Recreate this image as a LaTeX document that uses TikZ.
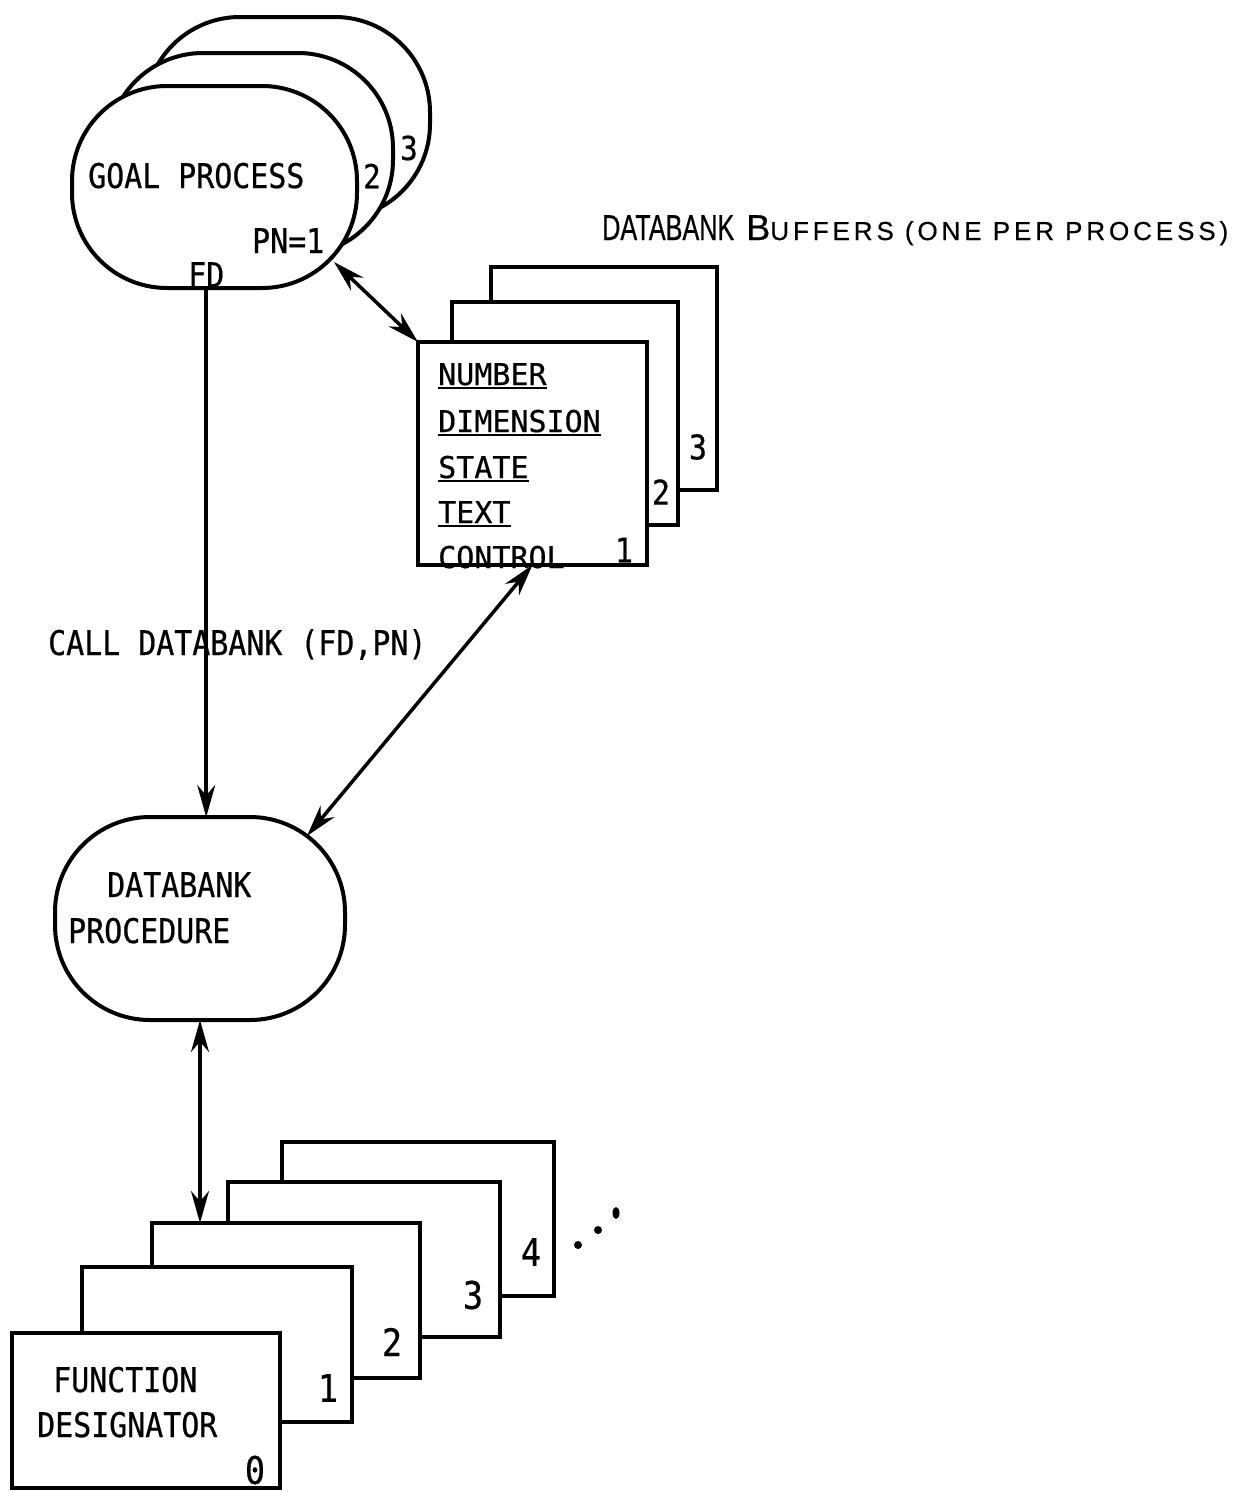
\documentclass[tikz,border=0pt]{standalone}
\usepackage{fontspec}
\usetikzlibrary{arrows.meta,calc}
\newfontfamily\tw[FakeStretch=0.88,FakeBold=0.6]{DejaVu Sans Mono}
\newfontfamily\bm[FakeBold=0.6]{DejaVu Sans Mono}
\newfontfamily\hf[FakeStretch=0.7,FakeBold=0.5]{Liberation Sans}
\newfontfamily\scf[LetterSpace=15,FakeBold=0.5]{Liberation Sans}
\newcommand\fsz[1]{\fontsize{#1pt}{#1pt}\selectfont}
\begin{document}
\begin{tikzpicture}[x=1pt,y=-1pt,
  blob/.style={draw, line width=4pt, fill=white, rounded corners=95pt,
    minimum width=285pt, minimum height=202pt, inner sep=0pt, outer sep=0pt},
  bbox/.style={draw, line width=3.5pt, fill=white, inner sep=0pt, outer sep=0pt},
  lbl/.style={inner sep=0pt, anchor=base west, font=\tw\fsz{34}},
  fld/.style={inner sep=0pt, anchor=base west, font=\bm\fsz{30}},
  num/.style={inner sep=0pt, font=\tw\fsz{33}},
  bnum/.style={inner sep=0pt, font=\tw\fsz{34}},
  fnum/.style={inner sep=0pt, font=\tw\fsz{38}},
  uline/.style={line width=2.5pt},
  arr/.style={line width=3.5pt, -{Stealth[length=32pt,width=18pt]}},
  darr/.style={line width=3.5pt, {Stealth[length=32pt,width=18pt]}-{Stealth[length=32pt,width=18pt]}}
]
\path[use as bounding box] (0,0) rectangle (1238,1492);

% goal processes
\node[blob] (gp3) at (287.5,118) {};
\node[blob] (gp2) at (250.5,154) {};
\node[blob] (gp1) at (214.5,187) {};
\node[num] (gpn2) at (372,176) {2};
\node[num] (gpn3) at (409,148) {3};
\node[lbl] (gpt) at (88,188) {GOAL PROCESS};
\node[lbl] (pn) at (252,253) {PN=1};
\node[lbl] (fd) at (188,287) {FD};

% databank buffers title
\node[inner sep=0pt, anchor=base west] (title) at (602,240)
  {{\hf\fsz{36}DATABANK}\hspace{12pt}{\scf\fsz{36}B}{\scf\fsz{26}UFFERS (ONE PER PROCESS)}};

% buffers
\node[bbox, minimum width=226pt, minimum height=223pt] (buf3) at (604,378.5) {};
\node[bbox, minimum width=226pt, minimum height=223pt] (buf2) at (565,413.5) {};
\node[bbox, minimum width=229pt, minimum height=223pt] (buf1) at (532.5,453.5) {};
\node[bnum] (bn3) at (698,447) {3};
\node[bnum] (bn2) at (661,492) {2};
\node[bnum] (bn1) at (624,550) {1};
\node[fld] (f1) at (438,385) {NUMBER};
\node[fld] (f2) at (438,432) {DIMENSION};
\node[fld] (f3) at (438,478) {STATE};
\node[fld] (f4) at (438,523) {TEXT};
\node[fld] (f5) at (438,568) {CONTROL};
\draw[line width=3.5pt] (buf1.south west) -- (buf1.south east);
\foreach \f in {f1,f2,f3,f4}
  \draw[uline] ([yshift=-3pt]\f.base west) -- ([yshift=-3pt]\f.base east);

% databank procedure
\node[blob, minimum width=290pt, minimum height=203pt] (dbp) at (200,918.5) {};
\node[lbl] (dbt1) at (107,897) {DATABANK};
\node[lbl] (dbt2) at (68,943) {PROCEDURE};

% call label
\node[lbl] (call) at (48,655) {CALL DATABANK (FD,PN)};

% function designators
\node[bbox, minimum width=272pt, minimum height=154pt] (fdb4) at (418,1219) {};
\node[bbox, minimum width=272pt, minimum height=155pt] (fdb3) at (364,1259.5) {};
\node[bbox, minimum width=268pt, minimum height=155pt] (fdb2) at (286,1300.5) {};
\node[bbox, minimum width=270pt, minimum height=155pt] (fdb1) at (217,1344.5) {};
\node[bbox, minimum width=268pt, minimum height=155pt] (fdb0) at (146,1410.5) {};
\node[fnum] (fn4) at (531,1252) {4};
\node[fnum] (fn3) at (473,1295) {3};
\node[fnum] (fn2) at (392,1342) {2};
\node[fnum] (fn1) at (328,1388) {1};
\node[fnum] (fn0) at (255,1470) {0};
\node[lbl] (fdt1) at (53,1392) {FUNCTION};
\node[lbl] (fdt2) at (37,1437) {DESIGNATOR};
\fill (578,1245) circle (4pt);
\fill (598,1230) circle (4pt);
\fill (616,1213) ellipse (3.5pt and 6pt);

% connectors
\coordinate (gpc) at (334,262);
\coordinate (dbpc) at (307,836);
\draw[darr] (gpc) -- (buf1.north west);
\draw[arr] (fd.south) -- (fd.south |- dbp.north);
\draw[darr] (buf1.south) -- (dbpc);
\draw[darr] (dbp.south) -- (dbp.south |- fdb2.north);
\end{tikzpicture}
\end{document}
